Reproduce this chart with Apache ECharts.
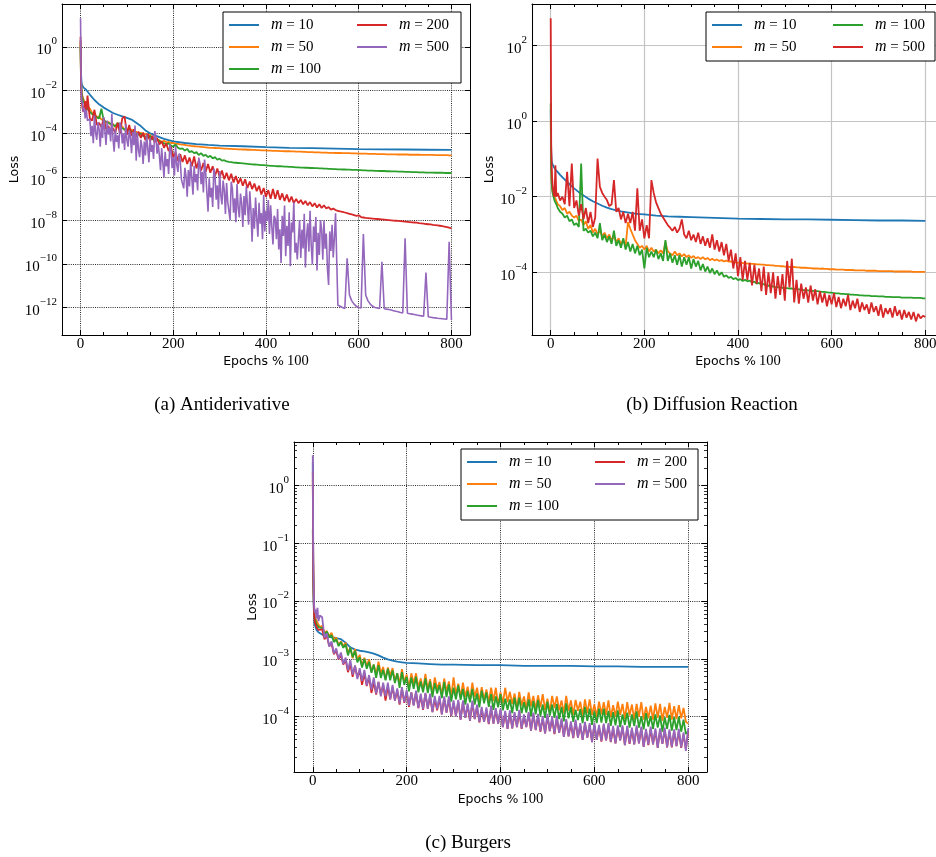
<!DOCTYPE html>
<html>
<head>
<meta charset="utf-8">
<script src="https://cdn.jsdelivr.net/npm/echarts@6.0.0/dist/echarts.min.js"></script>
<style>html,body{margin:0;padding:0;background:#fff}#chart{width:936px;height:857px}</style>
</head>
<body>
<div id="chart"></div>
<script>
// ---------- x positions (Epochs % 100) ----------
const epochsFine = [0,1,2,3,4,6,8,10,12,15,
 20,25,30,35,40,45,50,55,60,65,
 70,75,80,85,90,95,100,105,110,115,
 120,125,130,135,140,145,150,155,160,165,
 170,175,180,185,190,195,200,205,210,215,
 220,225,230,235,240,245,250,255,260,265,
 270,275,280,285,290,295,300,305,310,315,
 320,325,330,335,340,345,350,355,360,365,
 370,375,380,385,390,395,400,405,410,415,
 420,425,430,435,440,445,450,455,460,465,
 470,475,480,485,490,495,500,505,510,515,
 520,525,530,535,540,545,550,555,560,565,
 570,575,580,585,590,595,600,605,610,615,
 620,625,630,635,640,645,650,655,660,665,
 670,675,680,685,690,695,700,705,710,715,
 720,725,730,735,740,745,750,755,760,765,
 770,775,780,785,790,795,800];
const epochsCoarse = [0,1,2,3,4,6,8,10,12,15,
 20,30,40,50,60,70,80,90,100,110,120,130,140,150,160,170,180,190,200,
 225,250,275,300,
 350,400,450,500,550,600,650,700,750,800];
// denser sampling for the very noisy m=500 curve of panel (a)
const epochsDenseA = [0,1,2,3,4,6,8,10,12,15,
 20,22.5,25,27.5,30,32.5,35,37.5,40,42.5,45,47.5,50,52.5,55,57.5,60,62.5,65,67.5,
 70,72.5,75,77.5,80,82.5,85,87.5,90,92.5,95,97.5,100,102.5,105,107.5,110,112.5,115,117.5,
 120,122.5,125,127.5,130,132.5,135,137.5,140,142.5,145,147.5,150,152.5,155,157.5,160,162.5,165,167.5,
 170,172.5,175,177.5,180,182.5,185,187.5,190,192.5,195,197.5,200,202.5,205,207.5,210,212.5,215,217.5,
 220,222.5,225,227.5,230,232.5,235,237.5,240,242.5,245,247.5,250,252.5,255,257.5,260,262.5,265,267.5,
 270,272.5,275,277.5,280,282.5,285,287.5,290,292.5,295,297.5,300,302.5,305,307.5,310,312.5,315,317.5,
 320,322.5,325,327.5,330,332.5,335,337.5,340,342.5,345,347.5,350,352.5,355,357.5,360,362.5,365,367.5,
 370,372.5,375,377.5,380,382.5,385,387.5,390,392.5,395,397.5,400,402.5,405,407.5,410,412.5,415,417.5,
 420,422.5,425,427.5,430,432.5,435,437.5,440,442.5,445,447.5,450,452.5,455,457.5,460,462.5,465,467.5,
 470,472.5,475,477.5,480,482.5,485,487.5,490,492.5,495,497.5,500,502.5,505,507.5,510,512.5,515,517.5,
 520,522.5,525,527.5,530,532.5,535,537.5,540,542.5,545,547.5,550,
 555,560,565,570,575,580,585,590,595,600,605,610,615,620,625,630,635,640,645,650,
 655,660,665,670,675,680,685,690,695,700,705,710,715,720,725,730,735,740,745,750,
 755,760,765,770,775,780,785,790,795,800];

// ---------- tick labels / legend labels ----------
const xTickLabels = [0, 200, 400, 600, 800];
const mValuesA = ['10', '50', '100', '200', '500'];
const mValuesB = ['10', '50', '100', '500'];
const mValuesC = ['10', '50', '100', '200', '500'];
const captions = ['(a) Antiderivative', '(b) Diffusion Reaction', '(c) Burgers'];

// ---------- (a) Antiderivative : log10(loss) ----------
const antiM10Log = [0.3,-1.2,-1.6,-1.75,-1.82,-1.87,-1.9,-1.95,-1.98,-2.05,
 -2.2,-2.45,-2.65,-2.8,-2.92,-3.05,-3.13,-3.2,-3.27,-3.35,-3.5,-3.65,-3.85,-3.98,-4.08,-4.16,-4.24,-4.3,-4.35,
 -4.43,-4.48,-4.52,-4.55,
 -4.58,-4.62,-4.65,-4.67,-4.69,-4.71,-4.72,-4.73,-4.74,-4.75];
const antiM50Log = [0.2,-1.5,-1.9,-2.1,-2.25,-2.4,-2.5,-2.6,-2.65,-2.75,
 -2.85,-3.05,-3.05,-3.25,-3.2,-3.35,-3.35,-3.5,-3.45,-3.6,
 -3.55,-3.7,-3.6,-3.75,-3.65,-3.85,-3.75,-3.9,-3.8,-3.95,
 -3.9,-4.05,-3.95,-4.1,-4.0,-4.15,-4.05,-4.25,-4.2,-4.3,
 -4.3,-4.38,-4.33,-4.4,-4.38,-4.43,-4.42,-4.46,-4.47,-4.49,
 -4.5,-4.52,-4.54,-4.55,-4.57,-4.58,-4.59,-4.6,-4.61,-4.62,
 -4.63,-4.64,-4.65,-4.65,-4.66,-4.67,-4.67,-4.68,-4.69,-4.69,
 -4.7,-4.7,-4.71,-4.71,-4.72,-4.72,-4.73,-4.73,-4.74,-4.74,
 -4.75,-4.75,-4.76,-4.76,-4.77,-4.77,-4.77,-4.78,-4.78,-4.79,
 -4.79,-4.79,-4.8,-4.8,-4.81,-4.81,-4.81,-4.82,-4.82,-4.83,
 -4.83,-4.83,-4.84,-4.84,-4.85,-4.85,-4.85,-4.86,-4.86,-4.86,
 -4.87,-4.87,-4.87,-4.88,-4.88,-4.88,-4.89,-4.89,-4.89,-4.9,
 -4.9,-4.9,-4.9,-4.91,-4.91,-4.91,-4.92,-4.92,-4.92,-4.92,
 -4.93,-4.93,-4.93,-4.93,-4.94,-4.94,-4.94,-4.94,-4.95,-4.95,
 -4.95,-4.95,-4.95,-4.96,-4.96,-4.96,-4.96,-4.96,-4.97,-4.97,
 -4.97,-4.97,-4.97,-4.98,-4.98,-4.98,-4.98,-4.98,-4.98,-4.99,
 -4.99,-4.99,-4.99,-4.99,-4.99,-5.0,-5.0];
const antiM100Log = [0.0,-1.6,-2.0,-2.2,-2.35,-2.5,-2.6,-2.7,-2.75,-2.85,
 -3.0,-3.1,-3.15,-3.25,-3.3,-2.85,-3.4,-3.45,-3.5,-3.55,
 -3.6,-3.65,-3.5,-3.7,-3.75,-3.8,-3.85,-3.8,-3.9,-3.95,
 -4.0,-4.05,-4.0,-4.1,-4.15,-4.2,-4.1,-4.25,-4.3,-4.25,
 -4.35,-4.4,-4.45,-4.5,-4.45,-4.55,-4.6,-4.5,-4.65,-4.7,
 -4.68,-4.78,-4.7,-4.85,-4.8,-4.9,-4.85,-4.98,-4.9,-5.02,
 -4.98,-5.08,-5.02,-5.14,-5.08,-5.2,-5.15,-5.24,-5.22,-5.28,
 -5.3,-5.31,-5.33,-5.34,-5.35,-5.36,-5.37,-5.38,-5.39,-5.4,
 -5.41,-5.42,-5.43,-5.44,-5.45,-5.45,-5.46,-5.47,-5.48,-5.48,
 -5.49,-5.5,-5.5,-5.51,-5.52,-5.52,-5.53,-5.53,-5.54,-5.55,
 -5.55,-5.56,-5.56,-5.57,-5.57,-5.58,-5.58,-5.59,-5.59,-5.6,
 -5.6,-5.61,-5.61,-5.62,-5.62,-5.63,-5.63,-5.64,-5.64,-5.65,
 -5.65,-5.66,-5.66,-5.67,-5.67,-5.67,-5.68,-5.68,-5.69,-5.69,
 -5.7,-5.7,-5.7,-5.71,-5.71,-5.72,-5.72,-5.72,-5.73,-5.73,
 -5.74,-5.74,-5.74,-5.75,-5.75,-5.75,-5.76,-5.76,-5.76,-5.77,
 -5.77,-5.77,-5.78,-5.78,-5.78,-5.79,-5.79,-5.79,-5.79,-5.8,
 -5.8,-5.8,-5.8,-5.81,-5.81,-5.81,-5.81];
const antiM200Log = [0.46,-1.6,-2.3,-2.6,-2.8,-3.0,-3.05,-2.5,-3.15,-2.25,
 -3.3,-3.4,-2.9,-3.6,-3.5,-3.7,-3.3,-3.8,-3.65,-3.9,
 -3.75,-3.95,-3.5,-4.0,-3.3,-3.2,-4.05,-3.6,-4.1,-3.8,
 -4.15,-3.9,-4.2,-3.95,-4.3,-4.0,-4.35,-4.1,-4.4,-4.2,
 -4.5,-4.35,-4.65,-4.45,-4.8,-4.6,-5.1,-4.85,-5.25,-4.95,
 -5.3,-5.0,-5.4,-5.1,-5.5,-5.05,-5.6,-5.25,-5.7,-5.35,
 -5.75,-5.4,-5.8,-5.5,-5.95,-5.6,-6.0,-5.7,-6.1,-5.8,
 -6.15,-5.85,-6.25,-5.95,-6.3,-6.05,-6.4,-6.1,-6.5,-6.2,
 -6.55,-6.3,-6.65,-6.4,-6.8,-6.5,-6.9,-6.6,-7.0,-6.55,
 -7.0,-6.6,-7.05,-6.75,-7.1,-6.8,-7.15,-6.9,-7.2,-7.0,
 -7.2,-7.05,-7.25,-7.1,-7.3,-7.15,-7.35,-7.2,-7.4,-7.25,
 -7.42,-7.3,-7.45,-7.38,-7.5,-7.45,-7.52,-7.55,-7.58,-7.6,
 -7.63,-7.66,-7.69,-7.72,-7.75,-7.78,-7.76,-7.84,-7.86,-7.88,
 -7.89,-7.9,-7.91,-7.92,-7.93,-7.94,-7.95,-7.96,-7.97,-7.98,
 -7.99,-8.0,-8.01,-8.02,-8.03,-8.04,-8.05,-8.06,-8.07,-8.08,
 -8.09,-8.1,-8.12,-8.13,-8.14,-8.16,-8.17,-8.18,-8.2,-8.21,
 -8.22,-8.24,-8.26,-8.28,-8.3,-8.33,-8.36];
const antiM500Log = [1.31,-1.0,-2.2,-2.6,-2.5,-3.0,-2.8,-3.3,-2.9,-3.4,
 -3.32,-4.12,-3.64,-4.44,-3.16,-3.96,-4.28,-3.48,-3.8,-4.6,-3.56,-4.2,-3.24,-3.88,-4.52,-3.4,-4.04,-3.72,-4.36,-3.08,
 -4.23,-4.83,-3.78,-4.38,-4.08,-4.68,-3.48,-3.7,-4.45,-4.0,-4.75,-3.55,-4.3,-4.6,-3.85,-4.15,-4.9,-3.93,-4.53,-3.63,
 -5.24,-3.96,-4.76,-5.08,-4.28,-4.6,-5.4,-4.36,-5.0,-4.04,-4.68,-5.32,-4.2,-4.84,-4.52,-5.16,-3.88,-4.12,-4.92,-4.44,
 -5.0,-5.68,-4.66,-5.34,-6.02,-4.83,-5.51,-5.17,-5.85,-4.49,-4.74,-5.59,-5.08,-5.93,-4.57,-5.42,-5.76,-4.91,-5.25,-6.1,
 -6.14,-6.52,-5.57,-5.95,-6.9,-5.67,-6.43,-5.29,-6.05,-6.81,-5.48,-6.24,-5.86,-6.62,-5.1,-5.38,-6.33,-5.76,-6.71,-5.19,
 -5.83,-6.71,-7.59,-6.05,-6.93,-6.49,-7.37,-5.61,-5.94,-7.04,-6.38,-7.48,-5.72,-6.82,-7.26,-6.16,-6.6,-7.7,-6.27,-7.15,
 -7.09,-7.97,-6.21,-6.54,-7.64,-6.98,-8.08,-6.32,-7.42,-7.86,-6.76,-7.2,-8.3,-6.87,-7.75,-6.43,-7.31,-8.19,-6.65,-7.53,
 -8.98,-7.42,-8.38,-6.94,-7.9,-8.74,-7.18,-8.14,-7.66,-8.86,-6.82,-8.5,-7.54,-8.02,-7.06,-8.62,-7.3,-8.26,-9.1,-7.78,
 -7.93,-8.86,-7.47,-9.33,-8.4,-9.95,-7.78,-8.71,-7.31,-9.64,-8.24,-9.17,-7.62,-10.1,-8.09,-8.55,-7.16,-9.48,-9.02,-9.79,
 -8.85,-7.98,-9.72,-8.42,-9.29,-7.69,-10.16,-8.71,-8.13,-9.43,-7.55,-9.14,-10.01,-8.27,-8.99,-7.84,-10.3,-8.56,-9.58,-7.98,
 -8.4,-9.8,-8.0,-9.3,-8.6,-10.2,-10.97,-8.5,-9.4,-8.2,-9.7,-8.8,-7.67,
 -11.9,-11.95,-12.0,-12.05,-9.74,-11.43,-11.7,-11.85,-11.95,-12.0,-12.03,-8.62,-11.43,-11.7,-11.85,-11.95,-12.0,-12.03,-12.05,-9.9,
 -12.06,-12.08,-12.1,-12.12,-12.15,-12.18,-12.2,-12.23,-12.25,-8.82,-12.27,-12.29,-12.31,-12.33,-12.35,-12.37,-12.39,-12.41,-10.4,-12.43,
 -12.45,-12.47,-12.48,-12.5,-12.51,-12.52,-12.53,-12.54,-8.98,-12.58];

// ---------- (b) Diffusion Reaction : log10(loss) ----------
const diffM10Log = [0.3,-0.8,-1.05,-1.12,-1.15,-1.2,-1.24,-1.28,-1.31,-1.35,
 -1.42,-1.55,-1.67,-1.78,-1.88,-1.97,-2.05,-2.12,-2.18,-2.24,-2.29,-2.33,-2.36,-2.39,-2.41,-2.43,-2.45,-2.46,-2.47,
 -2.5,-2.52,-2.53,-2.54,
 -2.56,-2.58,-2.59,-2.6,-2.6,-2.61,-2.62,-2.63,-2.63,-2.64];
const diffM50Log = [0.0,-1.3,-1.6,-1.75,-1.85,-1.95,-2.0,-2.05,-2.1,-2.2,
 -2.25,-2.35,-2.3,-2.45,-2.4,-2.5,-2.55,-2.5,-2.65,-2.6,
 -2.75,-2.65,-2.85,-2.75,-2.95,-2.85,-3.0,-2.9,-3.05,-2.95,
 -3.1,-3.0,-3.15,-3.05,-3.2,-3.1,-3.25,-3.15,-3.3,-2.67,
 -2.85,-3.0,-3.15,-3.25,-3.35,-3.3,-3.4,-3.3,-3.45,-3.35,
 -3.45,-3.4,-3.5,-3.42,-3.5,-3.2,-3.45,-3.5,-3.55,-3.45,
 -3.55,-3.5,-3.58,-3.52,-3.6,-3.55,-3.62,-3.57,-3.63,-3.6,
 -3.65,-3.6,-3.66,-3.62,-3.68,-3.64,-3.69,-3.66,-3.7,-3.68,
 -3.71,-3.69,-3.72,-3.71,-3.74,-3.73,-3.75,-3.74,-3.76,-3.76,
 -3.77,-3.77,-3.78,-3.78,-3.79,-3.79,-3.8,-3.8,-3.81,-3.81,
 -3.82,-3.82,-3.83,-3.83,-3.84,-3.84,-3.85,-3.85,-3.86,-3.86,
 -3.86,-3.87,-3.87,-3.88,-3.88,-3.88,-3.89,-3.89,-3.9,-3.9,
 -3.9,-3.91,-3.9,-3.91,-3.91,-3.92,-3.92,-3.92,-3.93,-3.93,
 -3.93,-3.93,-3.94,-3.94,-3.94,-3.94,-3.95,-3.95,-3.95,-3.95,
 -3.95,-3.96,-3.96,-3.96,-3.96,-3.96,-3.97,-3.97,-3.97,-3.97,
 -3.97,-3.97,-3.97,-3.98,-3.98,-3.98,-3.98,-3.98,-3.98,-3.98,
 -3.98,-3.99,-3.99,-3.99,-3.99,-3.99,-3.99];
const diffM100Log = [0.47,-1.2,-1.6,-1.8,-1.9,-2.0,-2.1,-2.15,-2.2,-2.3,
 -2.4,-2.45,-2.55,-2.5,-2.65,-2.6,-2.75,-2.7,-2.8,-1.12,
 -2.9,-2.85,-2.95,-2.9,-3.05,-2.95,-3.1,-2.7,-3.15,-3.0,
 -3.2,-3.05,-3.25,-2.9,-3.3,-3.15,-3.35,-3.1,-3.4,-3.2,
 -3.45,-3.25,-3.5,-3.3,-3.55,-3.4,-3.9,-3.35,-3.6,-3.45,
 -3.6,-3.4,-3.65,-3.5,-3.7,-3.15,-3.7,-3.5,-3.75,-3.55,
 -3.8,-3.55,-3.85,-3.6,-3.8,-3.6,-3.9,-3.65,-3.85,-3.7,
 -3.95,-3.78,-3.98,-3.85,-4.02,-3.9,-4.05,-3.95,-4.08,-4.0,
 -4.12,-4.08,-4.15,-4.12,-4.18,-4.15,-4.21,-4.18,-4.23,-4.2,
 -4.24,-4.22,-4.27,-4.25,-4.3,-4.28,-4.33,-4.31,-4.36,-4.35,
 -4.38,-4.37,-4.4,-4.39,-4.41,-4.41,-4.42,-4.42,-4.43,-4.43,
 -4.44,-4.44,-4.45,-4.46,-4.47,-4.47,-4.48,-4.49,-4.49,-4.5,
 -4.5,-4.51,-4.52,-4.52,-4.53,-4.54,-4.54,-4.55,-4.56,-4.56,
 -4.57,-4.57,-4.58,-4.58,-4.59,-4.59,-4.6,-4.6,-4.61,-4.61,
 -4.62,-4.62,-4.62,-4.63,-4.63,-4.63,-4.64,-4.64,-4.64,-4.65,
 -4.65,-4.65,-4.66,-4.66,-4.66,-4.66,-4.67,-4.67,-4.67,-4.67,
 -4.67,-4.68,-4.68,-4.68,-4.68,-4.69,-4.69];
const diffM500Log = [2.72,-0.6,-1.2,-1.5,-1.7,-1.9,-2.0,-1.17,-2.0,-1.9,
 -2.1,-2.0,-2.2,-1.34,-2.25,-1.12,-2.3,-2.1,-2.5,-2.2,
 -2.6,-2.3,-2.7,-2.4,-2.8,-2.55,-0.99,-1.74,-1.9,-2.0,
 -2.09,-2.25,-2.2,-1.56,-2.4,-2.3,-2.6,-2.4,-2.7,-2.45,
 -2.7,-2.4,-2.9,-1.78,-2.9,-2.6,-3.1,-2.75,-3.1,-1.56,
 -1.9,-2.15,-2.3,-2.45,-2.55,-2.65,-2.75,-2.82,-2.9,-2.8,
 -2.95,-2.85,-2.6,-3.0,-3.1,-2.9,-3.15,-3.0,-3.2,-2.95,
 -3.25,-3.05,-3.3,-3.1,-3.35,-3.0,-3.4,-3.15,-3.45,-3.2,
 -3.55,-3.25,-3.7,-3.4,-3.9,-3.5,-4.1,-3.6,-4.2,-3.7,
 -4.2,-3.75,-4.35,-3.8,-4.3,-3.9,-4.5,-3.85,-4.6,-4.0,
 -4.55,-4.0,-4.7,-4.1,-4.6,-4.05,-4.75,-3.7,-4.4,-3.64,
 -4.8,-4.2,-4.83,-4.3,-4.7,-4.4,-4.8,-4.35,-4.75,-4.45,
 -4.85,-4.5,-4.8,-4.55,-4.9,-4.6,-4.85,-4.55,-4.92,-4.65,
 -4.95,-4.7,-4.9,-4.6,-5.0,-4.75,-4.95,-4.7,-5.05,-4.8,
 -5.0,-4.85,-5.1,-4.8,-5.05,-4.9,-5.15,-4.85,-5.2,-4.95,
 -5.1,-4.95,-5.2,-4.9,-5.15,-5.0,-5.25,-5.0,-5.2,-5.05,
 -5.25,-5.05,-5.3,-5.1,-5.22,-5.15,-5.18];

// ---------- (c) Burgers : log10(loss) ----------
const burgM10Log = [0.4,-1.5,-2.1,-2.3,-2.4,-2.45,-2.5,-2.52,-2.54,-2.56,
 -2.58,-2.61,-2.63,-2.64,-2.66,-2.72,-2.8,-2.84,-2.86,-2.87,-2.89,-2.91,-2.94,-2.98,-3.01,-3.03,-3.05,-3.06,-3.07,
 -3.08,-3.09,-3.1,-3.1,
 -3.11,-3.11,-3.12,-3.12,-3.12,-3.13,-3.13,-3.14,-3.14,-3.14];
const burgM50Log = [0.1,-1.3,-1.9,-2.1,-2.25,-2.3,-2.28,-2.38,-2.35,-2.45,
 -2.43,-2.55,-2.52,-2.61,-2.55,-2.67,-2.63,-2.76,-2.7,-2.78,
 -2.72,-2.9,-2.81,-2.99,-2.83,-3.02,-2.93,-3.13,-2.98,-3.12,
 -3.01,-3.22,-3.1,-3.27,-3.05,-3.25,-3.14,-3.35,-3.15,-3.29,
 -3.16,-3.39,-3.25,-3.43,-3.18,-3.41,-3.27,-3.5,-3.25,-3.43,
 -3.25,-3.5,-3.34,-3.54,-3.26,-3.53,-3.35,-3.61,-3.32,-3.52,
 -3.4,-3.63,-3.34,-3.57,-3.39,-3.66,-3.32,-3.62,-3.43,-3.66,
 -3.41,-3.66,-3.48,-3.72,-3.41,-3.66,-3.5,-3.74,-3.49,-3.7,
 -3.53,-3.75,-3.5,-3.73,-3.5,-3.8,-3.58,-3.77,-3.5,-3.75,
 -3.57,-3.78,-3.6,-3.85,-3.57,-3.81,-3.65,-3.86,-3.58,-3.82,
 -3.64,-3.88,-3.63,-3.84,-3.61,-3.88,-3.69,-3.92,-3.64,-3.85,
 -3.65,-3.89,-3.72,-3.94,-3.64,-3.9,-3.72,-3.97,-3.71,-3.9,
 -3.74,-3.99,-3.7,-3.94,-3.7,-3.97,-3.79,-4.0,-3.74,-3.96,
 -3.75,-3.97,-3.72,-4.01,-3.8,-4.0,-3.74,-3.97,-3.78,-4.04,
 -3.75,-3.98,-3.79,-4.05,-3.78,-4.0,-3.75,-4.05,-3.83,-4.03,
 -3.81,-4.05,-3.77,-4.02,-3.78,-4.07,-3.83,-4.02,-3.76,-4.05,
 -3.82,-4.04,-3.8,-4.03,-3.85,-4.09,-4.12];
const burgM100Log = [-0.77,-1.6,-2.0,-2.2,-2.3,-2.35,-2.4,-2.42,-2.45,-2.48,
 -2.47,-2.58,-2.53,-2.63,-2.59,-2.71,-2.66,-2.78,-2.71,-2.81,
 -2.75,-2.94,-2.81,-2.97,-2.86,-3.06,-2.97,-3.15,-3.0,-3.17,
 -3.05,-3.24,-3.1,-3.33,-3.11,-3.33,-3.19,-3.37,-3.17,-3.37,
 -3.2,-3.42,-3.25,-3.5,-3.23,-3.45,-3.31,-3.56,-3.32,-3.52,
 -3.31,-3.58,-3.39,-3.58,-3.34,-3.59,-3.39,-3.66,-3.42,-3.6,
 -3.45,-3.68,-3.4,-3.66,-3.44,-3.74,-3.5,-3.7,-3.46,-3.71,
 -3.52,-3.79,-3.55,-3.75,-3.52,-3.79,-3.6,-3.84,-3.55,-3.77,
 -3.58,-3.83,-3.61,-3.88,-3.65,-3.84,-3.61,-3.89,-3.69,-3.88,
 -3.7,-3.94,-3.67,-3.9,-3.67,-3.94,-3.75,-3.93,-3.7,-3.99,
 -3.73,-3.96,-3.71,-3.99,-3.79,-4.02,-3.74,-3.98,-3.79,-4.02,
 -3.78,-4.04,-3.83,-4.08,-3.77,-4.03,-3.83,-4.09,-3.88,-4.06,
 -3.87,-4.11,-3.83,-4.07,-3.86,-4.14,-3.91,-4.11,-3.86,-4.1,
 -3.86,-4.11,-3.9,-4.16,-3.92,-4.15,-3.89,-4.18,-3.96,-4.14,
 -3.93,-4.19,-3.96,-4.16,-3.91,-4.19,-3.99,-4.22,-3.94,-4.17,
 -3.99,-4.21,-3.96,-4.19,-3.98,-4.26,-4.01,-4.21,-3.97,-4.24,
 -4.01,-4.23,-4.0,-4.26,-4.05,-4.3,-4.25];
const burgM200Log = [0.24,-1.5,-2.0,-2.25,-2.35,-2.4,-2.45,-2.44,-2.5,-2.48,
 -2.49,-2.66,-2.6,-2.78,-2.73,-2.92,-2.86,-3.01,-2.93,-3.1,
 -3.02,-3.23,-3.09,-3.31,-3.12,-3.32,-3.2,-3.45,-3.25,-3.47,
 -3.32,-3.59,-3.4,-3.62,-3.4,-3.62,-3.45,-3.72,-3.48,-3.7,
 -3.49,-3.72,-3.55,-3.79,-3.52,-3.76,-3.58,-3.83,-3.58,-3.8,
 -3.58,-3.85,-3.64,-3.88,-3.6,-3.86,-3.65,-3.92,-3.7,-3.89,
 -3.68,-3.96,-3.68,-3.93,-3.69,-3.99,-3.76,-3.99,-3.74,-4.05,
 -3.75,-4.02,-3.81,-4.07,-3.76,-4.04,-3.83,-4.1,-3.87,-4.09,
 -3.88,-4.13,-3.85,-4.12,-3.89,-4.12,-3.89,-4.18,-3.94,-4.21,
 -3.93,-4.2,-3.96,-4.18,-3.92,-4.21,-4.0,-4.18,-3.95,-4.24,
 -3.96,-4.23,-3.99,-4.26,-4.03,-4.29,-3.99,-4.25,-4.04,-4.3,
 -4.02,-4.28,-4.07,-4.35,-4.07,-4.34,-4.12,-4.37,-4.09,-4.36,
 -4.15,-4.4,-4.12,-4.36,-4.15,-4.44,-4.14,-4.4,-4.18,-4.43,
 -4.15,-4.41,-4.15,-4.44,-4.2,-4.46,-4.19,-4.41,-4.18,-4.49,
 -4.2,-4.47,-4.23,-4.48,-4.19,-4.46,-4.2,-4.52,-4.25,-4.49,
 -4.21,-4.48,-4.24,-4.54,-4.23,-4.47,-4.23,-4.53,-4.26,-4.53,
 -4.25,-4.51,-4.25,-4.54,-4.31,-4.56,-4.25];
const burgM500Log = [0.52,-1.2,-1.8,-2.1,-2.2,-2.15,-2.3,-2.12,-2.35,-2.25,
 -2.28,-2.64,-2.56,-2.79,-2.7,-2.91,-2.82,-3.0,-2.89,-3.09,
 -2.98,-3.2,-3.02,-3.27,-3.12,-3.35,-3.16,-3.38,-3.19,-3.46,
 -3.28,-3.53,-3.32,-3.6,-3.4,-3.65,-3.41,-3.65,-3.41,-3.7,
 -3.45,-3.72,-3.51,-3.77,-3.49,-3.75,-3.54,-3.81,-3.58,-3.81,
 -3.55,-3.85,-3.6,-3.87,-3.59,-3.86,-3.6,-3.92,-3.64,-3.87,
 -3.64,-3.96,-3.65,-3.93,-3.65,-3.98,-3.72,-3.99,-3.71,-4.05,
 -3.72,-4.02,-3.77,-4.07,-3.72,-4.04,-3.79,-4.09,-3.83,-4.09,
 -3.84,-4.12,-3.81,-4.12,-3.85,-4.12,-3.86,-4.18,-3.9,-4.21,
 -3.89,-4.2,-3.92,-4.18,-3.88,-4.2,-3.96,-4.18,-3.92,-4.24,
 -3.93,-4.23,-3.95,-4.25,-3.99,-4.29,-3.95,-4.25,-4.0,-4.29,
 -3.98,-4.28,-4.03,-4.35,-4.04,-4.34,-4.08,-4.36,-4.05,-4.36,
 -4.11,-4.4,-4.09,-4.36,-4.11,-4.44,-4.11,-4.4,-4.14,-4.42,
 -4.12,-4.41,-4.11,-4.43,-4.16,-4.46,-4.15,-4.41,-4.15,-4.49,
 -4.16,-4.46,-4.19,-4.48,-4.15,-4.46,-4.17,-4.52,-4.21,-4.48,
 -4.17,-4.48,-4.2,-4.54,-4.2,-4.47,-4.19,-4.53,-4.22,-4.52,
 -4.22,-4.51,-4.21,-4.53,-4.27,-4.59,-4.2];

// ---------- styling ----------
const C = {'10':'#1f77b4','50':'#ff7f0e','100':'#2ca02c','200':'#d62728','500':'#9467bd'};
const C_B = {'10':'#1f77b4','50':'#ff7f0e','100':'#2ca02c','500':'#d62728'};
const SERIF = 'Liberation Serif';
const SANS = 'DejaVu Sans';

function pairs(xs, logs) { return logs.map((e, i) => [xs[i], Math.pow(10, e)]); }

function mkSeries(key, m, color, xs, logs, g, w) {
  return {
    type: 'line', name: key + m, xAxisIndex: 2 * g, yAxisIndex: 2 * g,
    data: pairs(xs, logs), showSymbol: false, symbol: 'none', silent: true,
    lineStyle: { color: color, width: w || 1.8 }, itemStyle: { color: color },
    emphasis: { disabled: true }, animation: false
  };
}

function logLabel(v) {
  const e = Math.log10(v);
  const r = Math.round(e);
  if (Math.abs(e - r) > 0.01) return '';
  const s = r < 0 ? '\u2212' + (-r) : String(r);
  return '{b|10}{sup|' + s + '}';
}
const labelRich = {
  b: { fontFamily: SERIF, fontSize: 15, color: '#000', lineHeight: 22, verticalAlign: 'bottom' },
  sup: { fontFamily: SERIF, fontSize: 11, color: '#000', lineHeight: 13, verticalAlign: 'top' }
};

const dotted = { color: '#111', width: 0.9, type: [1, 1.2] };
const solidGray = { color: '#c4c4c4', width: 1.2, type: 'solid' };

function xAxes(g, gridStyle, nameGap) {
  const common = {
    type: 'value', gridIndex: g, min: -40, max: 840, splitNumber: 5,
    axisLine: { show: true, onZero: false, lineStyle: { color: '#000', width: 1 } },
    axisTick: { show: true, inside: true, length: 5, lineStyle: { color: '#000', width: 1 } },
    minorTick: { show: true, splitNumber: 4, length: 3, lineStyle: { color: '#000', width: 1 } },
    minorSplitLine: { show: false }
  };
  return [
    Object.assign({}, common, {
      position: 'bottom',
      axisLabel: { show: true, margin: 2, color: '#000', fontFamily: SERIF, fontSize: 15,
        formatter: v => (xTickLabels.indexOf(v) >= 0 ? String(v) : '') },
      splitLine: { show: true, lineStyle: gridStyle },
      name: '{s|Epochs %} {n|100}', nameLocation: 'middle', nameGap: nameGap, nameMoveOverlap: false,
      nameTextStyle: { color: '#000', rich: {
        s: { fontFamily: SANS, fontSize: 12.5, color: '#000' },
        n: { fontFamily: SERIF, fontSize: 14.5, color: '#000' } } }
    }),
    Object.assign({}, common, {
      position: 'top', axisLabel: { show: false }, splitLine: { show: false }
    })
  ];
}

function yAxes(g, base, minV, maxV, gridStyle, nameGap, minor) {
  const common = {
    type: 'log', logBase: base, gridIndex: g, min: minV, max: maxV,
    axisLine: { show: true, onZero: false, lineStyle: { color: '#000', width: 1 } },
    axisTick: { show: true, inside: true, length: 5, lineStyle: { color: '#000', width: 1 } },
    minorTick: { show: minor, splitNumber: 9, length: 3, lineStyle: { color: '#000', width: 0.8 } },
    minorSplitLine: { show: false }
  };
  return [
    Object.assign({}, common, {
      position: 'left',
      axisLabel: { show: true, margin: 5, formatter: logLabel, rich: labelRich },
      splitLine: { show: true, lineStyle: gridStyle },
      name: 'Loss', nameLocation: 'middle', nameRotate: 90, nameGap: nameGap, nameMoveOverlap: false,
      nameTextStyle: { fontFamily: SANS, fontSize: 12.5, color: '#000' }
    }),
    Object.assign({}, common, {
      position: 'right', axisLabel: { show: false }, splitLine: { show: false }
    })
  ];
}

function mkLegend(key, mList, left, top, w1, w2, nCol1, colorMap) {
  const data = [];
  mList.forEach((m, i) => {
    if (i === nCol1) data.push('');
    data.push({ name: key + m, icon: 'rect', textStyle: { width: i < nCol1 ? w1 : w2 },
      itemStyle: { color: colorMap[m], borderWidth: 0 } });
  });
  return {
    orient: 'vertical', left: left, top: top, data: data, selectedMode: false,
    itemWidth: 30, itemHeight: 2, itemGap: 6, padding: [5, 6, 6, 6],
    backgroundColor: '#fff', borderColor: '#000', borderWidth: 1, borderRadius: 0,
    itemStyle: { borderWidth: 0 },
    formatter: name => '{i|m} = ' + name.slice(1),
    textStyle: { color: '#000', fontFamily: SERIF, fontSize: 15, lineHeight: 16, padding: [0, 0, 0, 7],
      rich: { i: { fontFamily: SERIF, fontStyle: 'italic', fontSize: 16, lineHeight: 16, color: '#000' } } }
  };
}

const series = [];
series.push(mkSeries('a', '10', C['10'], epochsCoarse, antiM10Log, 0));
series.push(mkSeries('a', '50', C['50'], epochsFine, antiM50Log, 0));
series.push(mkSeries('a', '100', C['100'], epochsFine, antiM100Log, 0));
series.push(mkSeries('a', '200', C['200'], epochsFine, antiM200Log, 0));
series.push(mkSeries('a', '500', C['500'], epochsDenseA, antiM500Log, 0, 1.6));
series.push(mkSeries('b', '10', C_B['10'], epochsCoarse, diffM10Log, 1));
series.push(mkSeries('b', '50', C_B['50'], epochsFine, diffM50Log, 1));
series.push(mkSeries('b', '100', C_B['100'], epochsFine, diffM100Log, 1));
series.push(mkSeries('b', '500', C_B['500'], epochsFine, diffM500Log, 1));
series.push(mkSeries('c', '10', C['10'], epochsCoarse, burgM10Log, 2));
series.push(mkSeries('c', '50', C['50'], epochsFine, burgM50Log, 2));
series.push(mkSeries('c', '100', C['100'], epochsFine, burgM100Log, 2));
series.push(mkSeries('c', '200', C['200'], epochsFine, burgM200Log, 2));
series.push(mkSeries('c', '500', C['500'], epochsFine, burgM500Log, 2));

const option = {
  backgroundColor: '#fff',
  animation: false,
  grid: [
    { left: 62, top: 4, width: 408, height: 331, containLabel: false, outerBoundsMode: 'none' },
    { left: 532, top: 4, width: 412, height: 331, containLabel: false, outerBoundsMode: 'none' },
    { left: 294, top: 442, width: 413, height: 330, containLabel: false, outerBoundsMode: 'none' }
  ],
  xAxis: [].concat(xAxes(0, dotted, 19), xAxes(1, solidGray, 19), xAxes(2, dotted, 20)),
  yAxis: [].concat(
    yAxes(0, 100, Math.pow(10, -13.27), Math.pow(10, 1.97), dotted, 41, false),
    yAxes(1, 100, Math.pow(10, -5.66), Math.pow(10, 3.10), solidGray, 36, false),
    yAxes(2, 10, Math.pow(10, -4.956), Math.pow(10, 0.748), dotted, 35, true)
  ),
  legend: [
    mkLegend('a', mValuesA, 223, 12, 80, 56, 3, C),
    mkLegend('b', mValuesB, 706, 12, 73, 54, 2, C_B),
    mkLegend('c', mValuesC, 461, 449, 80, 55, 3, C)
  ],
  graphic: [
    { type: 'text', x: 222, y: 405, style: { text: captions[0], fontFamily: SERIF, fontSize: 19, fill: '#000', align: 'center', verticalAlign: 'middle' } },
    { type: 'text', x: 712, y: 405, style: { text: captions[1], fontFamily: SERIF, fontSize: 19, fill: '#000', align: 'center', verticalAlign: 'middle' } },
    { type: 'text', x: 468, y: 843, style: { text: captions[2], fontFamily: SERIF, fontSize: 19, fill: '#000', align: 'center', verticalAlign: 'middle' } }
  ],
  series: series
};

const chart = echarts.init(document.getElementById('chart'), null, { renderer: 'canvas' });
chart.setOption(option);
</script>
</body>
</html>
